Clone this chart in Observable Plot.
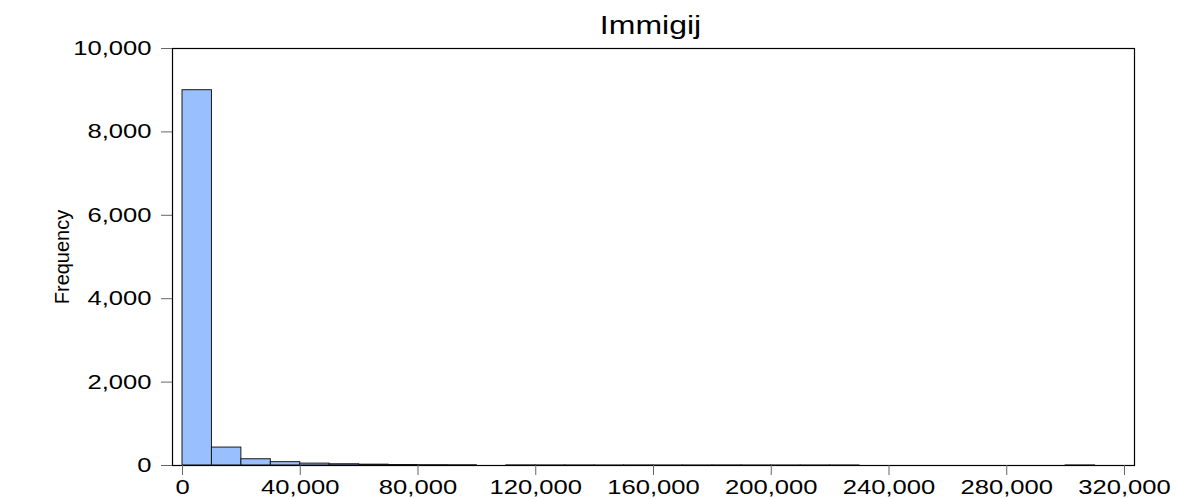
<!DOCTYPE html>
<html><head><meta charset="utf-8">
<script src="https://cdn.jsdelivr.net/npm/d3@7"></script>
<script src="https://cdn.jsdelivr.net/npm/@observablehq/plot@0.6"></script>
<style>
body{margin:0;background:#fff}
svg{font-family:"Liberation Sans",Arial,sans-serif}
</style>
</head><body><div id="chart"></div>
<script>
const title = "Immigij";
const yLabel = "Frequency";
const binWidth = 10000;
const binStart = [0,10000,20000,30000,40000,50000,60000,70000,80000,90000,
  110000,120000,130000,140000,150000,160000,170000,180000,190000,200000,210000,220000,
  300000];
const counts = [9000,430,150,80,45,30,20,12,8,6,
  3,2,2,1,2,1,1,2,1,1,1,1,
  2];
const xTicks = [0,40000,80000,120000,160000,200000,240000,280000,320000];
const yTicks = [0,2000,4000,6000,8000,10000];

const data = binStart.map((s,i)=>({x1:s,x2:s+binWidth,count:counts[i]}));
const fmt = d3.format(",");

const plot = Plot.plot({
  width:1178, height:499,
  marginLeft:172, marginRight:44, marginTop:48, marginBottom:34,
  style:{fontFamily:'"Liberation Sans",Arial,sans-serif', fontSize:"20px", color:"#000", background:"#fff", overflow:"visible"},
  x:{domain:[-3400,323400], label:null},
  y:{domain:[0,10000], label:null},
  marks:[
    Plot.rectY(data,{x1:"x1",x2:"x2",y:"count",fill:"#99bfff",stroke:"#1a1a1a",strokeWidth:1}),
    Plot.frame({stroke:"#000", strokeWidth:1.2}),
    Plot.axisX({ticks:xTicks, tickFormat:fmt, tickSize:10, tickPadding:4, stroke:"#666", label:null}),
    Plot.axisY({ticks:yTicks, tickFormat:fmt, tickSize:11, tickPadding:10, stroke:"#666", label:null}),
    Plot.text([yLabel],{frameAnchor:"left", textAnchor:"middle", rotate:-90, dx:-110, fontSize:20}),
    Plot.text([title],{frameAnchor:"top", lineAnchor:"middle", dy:-23, dx:-3, fontSize:25})
  ]
});
document.getElementById("chart").appendChild(plot);

// horizontal stretch of glyphs (horizontal text only), as in the reference
const S = 1.28;
plot.querySelectorAll("text").forEach(t=>{
  const tr = t.getAttribute("transform");
  if (tr) {
    if (!tr.includes("rotate")) t.setAttribute("transform", tr + ` scale(${S},1)`);
  } else {
    const x = +(t.getAttribute("x")||0), y = +(t.getAttribute("y")||0);
    t.setAttribute("transform", `translate(${x},${y}) scale(${S},1) translate(${-x},${-y})`);
  }
});
</script>
</body></html>
